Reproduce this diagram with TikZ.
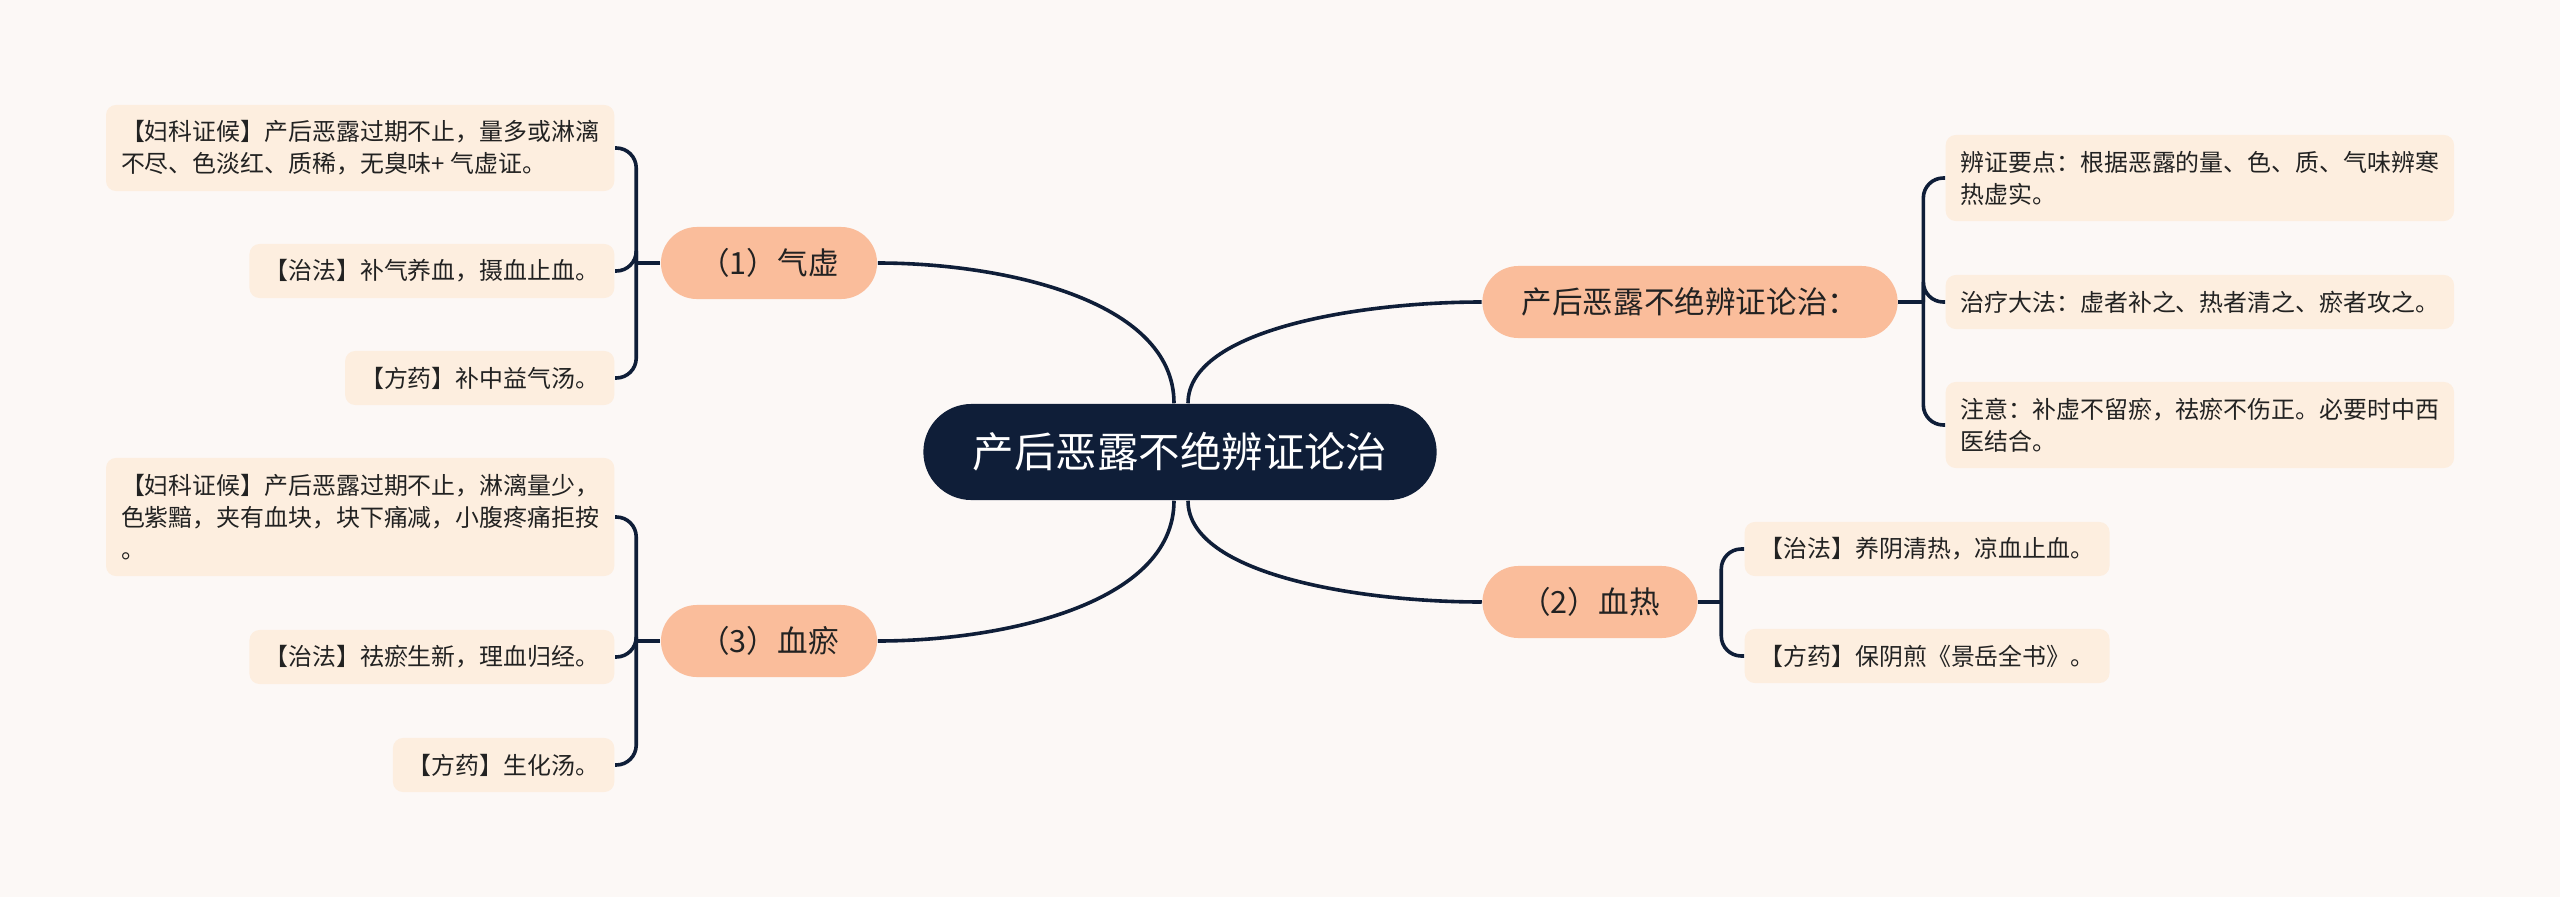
\documentclass[tikz,border=0pt]{standalone}
\usepackage{fontspec}
\setmainfont{Noto Sans CJK SC}
\usepackage{tikz}
\definecolor{paper}{HTML}{FCF8F6}
\definecolor{navy}{HTML}{0F1E38}
\definecolor{peach}{HTML}{FABD9B}
\definecolor{cream}{HTML}{FDEEDF}
\definecolor{ink}{HTML}{222222}

\begin{document}
\begin{tikzpicture}[x=0.01cm, y=-0.01cm,
  hub/.style={fill=navy, text=white, rounded corners=0.48cm, minimum width=5.13cm, minimum height=0.96cm, inner sep=0pt, font=\fontsize{11.8pt}{14pt}\selectfont},
  branch/.style={fill=peach, text=ink, rounded corners=0.36cm, minimum height=0.72cm, inner sep=0pt, font=\fontsize{8.7pt}{10pt}\selectfont},
  leaf/.style={fill=cream, text=ink, rounded corners=0.1cm, inner xsep=0.15cm, inner ysep=0pt, align=left, font=\fontsize{6.8pt}{9.1pt}\selectfont},
  link/.style={draw=navy, line width=0.036cm}]
\fill[paper] (0,0) rectangle (2560,897);

\node[hub] (hub) at (1180,452) {产后恶露不绝辨证论治};

\node[branch, minimum width=2.16cm] (q1) at (769,263) {（1）气虚};
\node[branch, minimum width=2.16cm] (q3) at (769,641) {（3）血瘀};
\node[branch, minimum width=4.15cm] (r1) at (1690,302) {产后恶露不绝辨证论治：};
\node[branch, minimum width=2.15cm] (r2) at (1590,602) {（2）血热};

\node[leaf, minimum height=0.86cm, anchor=east] (a1) at (615,148) {【妇科证候】产后恶露过期不止，量多或淋漓\\不尽、色淡红、质稀，无臭味+ 气虚证。};
\node[leaf, minimum height=0.54cm, anchor=east] (a2) at (615,271) {【治法】补气养血，摄血止血。};
\node[leaf, minimum height=0.54cm, anchor=east] (a3) at (615,378) {【方药】补中益气汤。};

\node[leaf, minimum height=1.18cm, anchor=east] (b1) at (615,517) {【妇科证候】产后恶露过期不止，淋漓量少，\\色紫黯，夹有血块，块下痛减，小腹疼痛拒按\\。};
\node[leaf, minimum height=0.54cm, anchor=east] (b2) at (615,657) {【治法】祛瘀生新，理血归经。};
\node[leaf, minimum height=0.54cm, anchor=east] (b3) at (615,765) {【方药】生化汤。};

\node[leaf, minimum height=0.86cm, anchor=west] (c1) at (1945,178) {辨证要点：根据恶露的量、色、质、气味辨寒\\热虚实。};
\node[leaf, minimum height=0.54cm, anchor=west] (c2) at (1945,302) {治疗大法：虚者补之、热者清之、瘀者攻之。};
\node[leaf, minimum height=0.86cm, anchor=west] (c3) at (1945,425) {注意：补虚不留瘀，祛瘀不伤正。必要时中西\\医结合。};

\node[leaf, minimum height=0.54cm, anchor=west] (d1) at (1744,549) {【治法】养阴清热，凉血止血。};
\node[leaf, minimum height=0.54cm, anchor=west] (d2) at (1744,656) {【方药】保阴煎《景岳全书》。};

\draw[link] ([xshift=-0.06cm]hub.north) .. controls +(0,-104) and +(123,0) .. (q1.east);
\draw[link] ([xshift=-0.06cm]hub.south) .. controls +(0,104) and +(123,0) .. (q3.east);
\draw[link] ([xshift=0.08cm]hub.north) .. controls +(0,-74) and +(-121,0) .. (r1.west);
\draw[link] ([xshift=0.08cm]hub.south) .. controls +(0,74) and +(-121,0) .. (r2.west);

\draw[link] (q1.west) -- ++(-24,0) coordinate (jq1);
\draw[link] (q3.west) -- ++(-24,0) coordinate (jq3);
\draw[link] (r1.east) -- ++(25,0) coordinate (jr1);
\draw[link] (r2.east) -- ++(23,0) coordinate (jr2);

\foreach \leafname in {a1,a2,a3}
  \draw[link, rounded corners=0.2cm] (jq1) |- (\leafname.east);
\foreach \leafname in {b1,b2,b3}
  \draw[link, rounded corners=0.2cm] (jq3) |- (\leafname.east);
\foreach \leafname in {c1,c2,c3}
  \draw[link, rounded corners=0.2cm] (jr1) |- (\leafname.west);
\foreach \leafname in {d1,d2}
  \draw[link, rounded corners=0.2cm] (jr2) |- (\leafname.west);
\end{tikzpicture}
\end{document}
